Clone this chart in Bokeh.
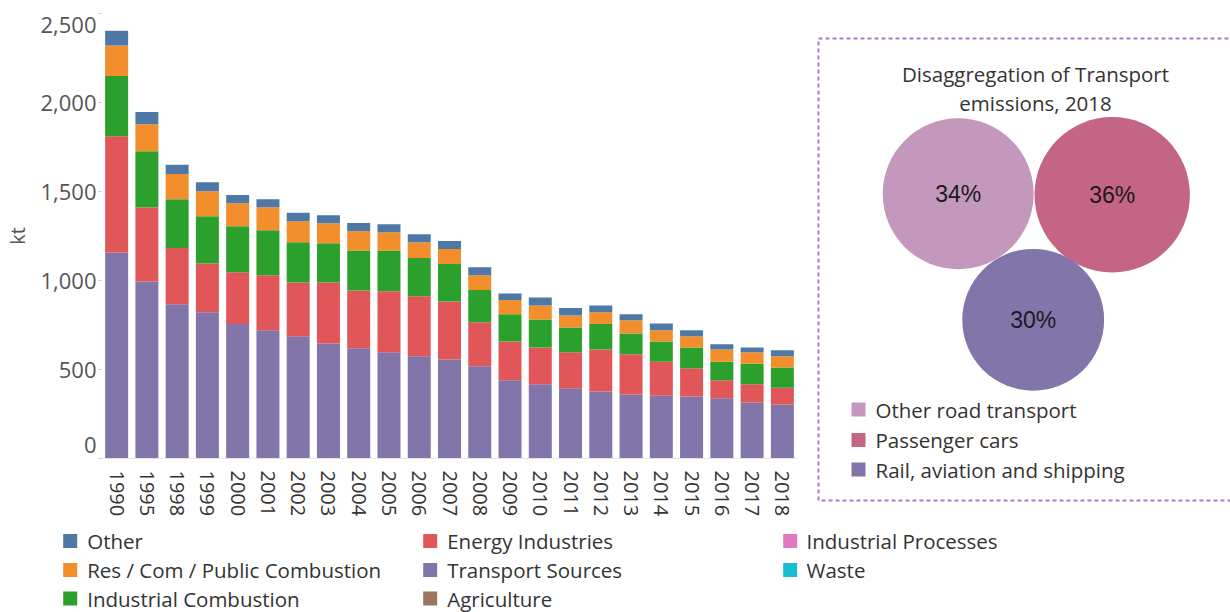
from bokeh.plotting import figure
from bokeh.layouts import row, column
from bokeh.models import Range1d, FactorRange, ColumnDataSource, NumeralTickFormatter, FixedTicker
from bokeh.core.properties import value
from bokeh.embed import file_html
from bokeh.resources import INLINE

# ---------------- data ----------------
years = ["1990", "1995", "1998", "1999", "2000", "2001", "2002", "2003", "2004", "2005",
         "2006", "2007", "2008", "2009", "2010", "2011", "2012", "2013", "2014", "2015",
         "2016", "2017", "2018"]
transport = [1158, 994, 867, 822, 755, 721, 687, 646, 619, 597, 574, 556, 518, 439, 417,
             394, 376, 360, 353, 349, 338, 315, 304]
energy = [653, 416, 315, 274, 292, 308, 302, 343, 325, 342, 338, 326, 248, 218, 206,
          203, 236, 226, 191, 158, 101, 102, 94]
ind_comb = [338, 316, 275, 265, 258, 253, 226, 220, 225, 230, 214, 210, 180, 154, 158,
            139, 143, 116, 113, 116, 105, 116, 113]
res_com = [171, 152, 142, 141, 129, 129, 118, 113, 107, 102, 89, 85, 84, 79, 79,
           67, 67, 75, 64, 64, 68, 64, 63]
other = [83, 68, 51, 50, 47, 46, 47, 45, 47, 45, 45, 45, 45, 37, 45,
         42, 38, 34, 37, 34, 30, 26, 34]
ind_proc = [0] * 23
waste = [0] * 23
agriculture = [0] * 23

y_ticks = [0, 500, 1000, 1500, 2000, 2500]

legend_names = ["Other", "Res / Com / Public Combustion", "Industrial Combustion",
                "Energy Industries", "Transport Sources", "Agriculture",
                "Industrial Processes", "Waste"]
legend_colors = ["#4e79a7", "#f28e2b", "#2ca02c", "#e15759", "#8175aa", "#9c755f",
                 "#e377c2", "#17becf"]

bubble_names = ["Other road transport", "Passenger cars", "Rail, aviation and shipping"]
bubble_pct = [34, 36, 30]
bubble_colors = ["#c497bd", "#c46586", "#8175aa"]
bubble_title = ["Disaggregation of Transport", "emissions, 2018"]

FONT = "Open Sans"

# ---------------- bar chart ----------------
stack_keys = ["transport", "energy", "ind_comb", "res_com", "other", "ind_proc", "waste", "agriculture"]
stack_colors = ["#8175aa", "#e15759", "#2ca02c", "#f28e2b", "#4e79a7", "#e377c2", "#17becf", "#9c755f"]
src = ColumnDataSource(dict(year=years, transport=transport, energy=energy, ind_comb=ind_comb,
                            res_com=res_com, other=other, ind_proc=ind_proc, waste=waste,
                            agriculture=agriculture))

p = figure(x_range=FactorRange(factors=years, factor_padding=0, range_padding=0),
           y_range=Range1d(0, 2500), width=808, height=528,
           output_backend="svg", toolbar_location=None,
           min_border_left=101, min_border_right=11, min_border_top=13, min_border_bottom=70)
p.vbar_stack(stack_keys, x="year", width=0.76, source=src, fill_color=stack_colors, line_color=None)

p.xgrid.grid_line_color = None
p.ygrid.grid_line_color = None
p.outline_line_color = None

# tick marks at the true values; the end labels are nudged inward as in the reference
label_pos = [y_ticks[0] + 74] + y_ticks[1:-1] + [y_ticks[-1] - 66]
p.yaxis.ticker = FixedTicker(ticks=label_pos, minor_ticks=y_ticks)
p.yaxis.formatter = NumeralTickFormatter(format="0,0")
p.yaxis.major_label_overrides = {label_pos[0]: "{:,}".format(y_ticks[0]),
                                 label_pos[-1]: "{:,}".format(y_ticks[-1])}
p.yaxis.axis_line_color = None
p.yaxis.major_tick_line_color = None
p.yaxis.minor_tick_line_color = "#cccccc"
p.yaxis.major_tick_out = 3
p.yaxis.major_tick_in = 0
p.yaxis.minor_tick_out = 3
p.yaxis.minor_tick_in = 0
p.yaxis.major_label_standoff = 2
p.yaxis.major_label_text_font = FONT
p.yaxis.major_label_text_font_size = "22px"
p.yaxis.major_label_text_color = "#555555"
p.yaxis.axis_label = "kt"
p.yaxis.axis_label_text_font = FONT
p.yaxis.axis_label_text_font_size = "20px"
p.yaxis.axis_label_text_font_style = "normal"
p.yaxis.axis_label_text_color = "#555555"
p.yaxis.axis_label_standoff = 6

p.xaxis.major_label_orientation = "vertical"
p.xaxis.major_label_text_font = FONT
p.xaxis.major_label_text_font_size = "20px"
p.xaxis.major_label_text_color = "#333333"
p.xaxis.major_tick_line_color = None
p.xaxis.axis_line_color = "#e6e6e6"
p.xaxis.major_label_standoff = 6

# ---------------- bubble panel ----------------
q = figure(width=422, height=528, x_range=Range1d(808, 1230), y_range=Range1d(528, 0),
           output_backend="svg", toolbar_location=None, min_border=0,
           x_axis_type=None, y_axis_type=None, frame_align=False)
q.xgrid.grid_line_color = None
q.ygrid.grid_line_color = None
q.outline_line_color = None

q.quad(left=[818], right=[1245], top=[38], bottom=[500], fill_color=None,
       line_color="#a77bd0", line_width=2, line_dash="4 3")
q.text(x=[1035, 1035], y=[73, 102], text=bubble_title,
       text_align="center", text_baseline="alphabetic", text_font=value(FONT),
       text_font_size="20.5px", text_color="#333333")

scale_k = 12.95
radii = [scale_k * v ** 0.5 for v in bubble_pct]
cx = [957.7, 1111.7, 1032.7]
cy = [193.3, 194.3, 319.3]
bsrc = ColumnDataSource(dict(x=cx, y=cy, r=radii, c=bubble_colors,
                             t=["%d%%" % v for v in bubble_pct]))
q.circle(x="x", y="y", radius="r", fill_color="c", line_color=None, source=bsrc)
q.text(x="x", y="y", text="t", source=bsrc, text_align="center", text_baseline="middle",
       text_font=value("Liberation Sans"), text_font_size="23px", text_color="#1a1a1a")

ly = [409, 439.5, 469]
q.scatter(x=[858] * 3, y=ly, marker="square", size=14, fill_color=bubble_colors, line_color=None)
q.text(x=[875] * 3, y=ly, text=bubble_names, text_align="left", text_baseline="middle",
       text_font=value(FONT), text_font_size="20.5px", text_color="#333333")

# ---------------- bottom legend ----------------
r = figure(width=1230, height=84, x_range=Range1d(0, 1230), y_range=Range1d(612, 528),
           output_backend="svg", toolbar_location=None, min_border=0,
           x_axis_type=None, y_axis_type=None, frame_align=False)
r.xgrid.grid_line_color = None
r.ygrid.grid_line_color = None
r.outline_line_color = None

col_sq = [69.7, 429.7, 789.7]
col_tx = [86.7, 446.7, 806]
rows_y = [540.5, 569.5, 598]
sx, sy, tx = [], [], []
for i, name in enumerate(legend_names):
    c, rr = divmod(i, 3)
    sx.append(col_sq[c]); sy.append(rows_y[rr]); tx.append(col_tx[c])
r.scatter(x=sx, y=sy, marker="square", size=14, fill_color=legend_colors, line_color=None)
r.text(x=tx, y=sy, text=legend_names, text_align="left", text_baseline="middle",
       text_font=value(FONT), text_font_size="20.5px", text_color="#333333")

layout = column(row(p, q, spacing=0), r, spacing=0)
open("out.html", "w").write(file_html(layout, INLINE))
